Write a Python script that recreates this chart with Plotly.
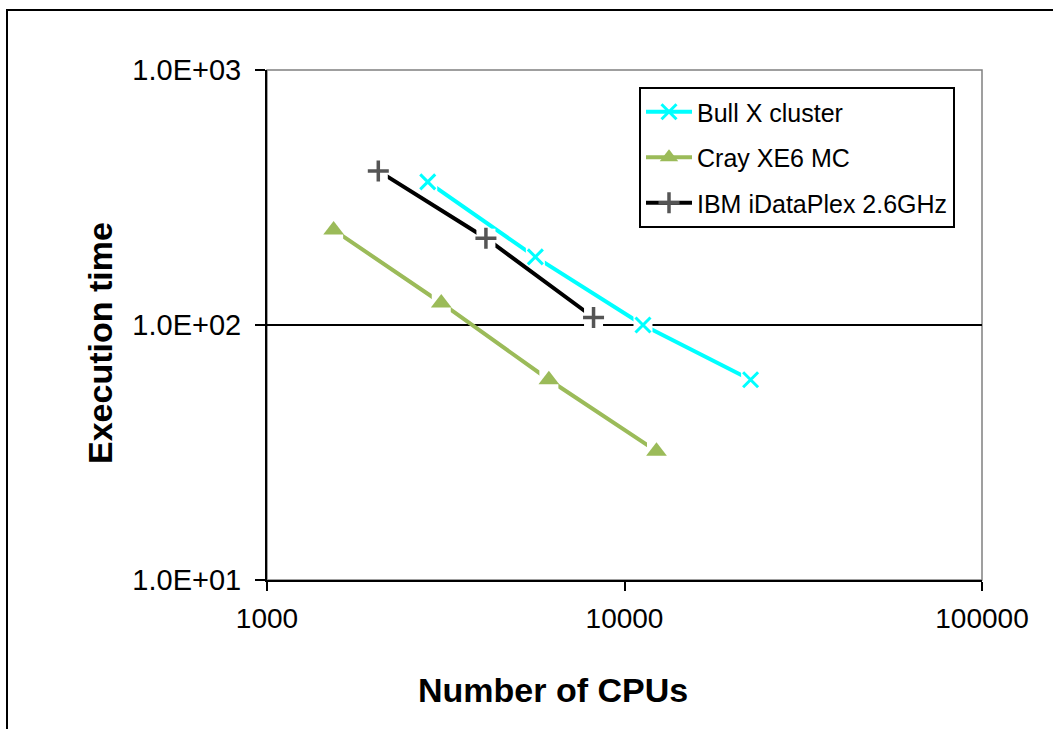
import plotly.graph_objects as go

bull_x = [2816, 5632, 11264, 22528]
bull_y = [364, 185, 100, 61]
cray_x = [1536, 3072, 6144, 12288]
cray_y = [236, 122, 61, 32]
ibm_x = [2048, 4096, 8192]
ibm_y = [402, 219, 107]

xtick_vals = [1000, 10000, 100000]
xtick_text = ["1000", "10000", "100000"]
ytick_vals = [10, 100, 1000]
ytick_text = ["1.0E+01", "1.0E+02", "1.0E+03"]

series = [
    ("Bull X cluster", bull_x, bull_y, "#00FFFF", dict(symbol="x-thin", size=15, line=dict(color="#00FFFF", width=3))),
    ("Cray XE6 MC", cray_x, cray_y, "#9BBB59", dict(symbol="triangle-up", size=18, color="#9BBB59", line=dict(width=0))),
    ("IBM iDataPlex 2.6GHz", ibm_x, ibm_y, "#000000", dict(symbol="cross-thin", size=15, line=dict(color="#555555", width=3.5))),
]

fig = go.Figure()
for name, xs, ys, col, mk in series:
    fig.add_trace(go.Scatter(x=xs, y=ys, mode="lines", line=dict(color=col, width=4),
                             showlegend=False, hoverinfo="skip"))
    # white halo behind markers (Excel-style gap)
    fig.add_trace(go.Scatter(x=xs, y=ys, mode="markers",
                             marker=dict(symbol="square", size=19, color="white"),
                             showlegend=False, hoverinfo="skip"))
for i, (name, xs, ys, col, mk) in enumerate(series):
    fig.add_trace(go.Scatter(x=xs, y=ys, mode="markers", marker=mk, name=name, showlegend=False))
    fig.add_trace(go.Scatter(x=[None], y=[None], mode="lines+markers", name=name,
                             legendgroup=f"g{i}",
                             line=dict(color=col, width=4), marker=mk))

L, R, T, B = 267, 71, 70, 149
W, H = 1053, 729
pw, ph = W - L - R, H - T - B

def px_x(p):
    return (p - L) / pw

def px_y(p):
    return 1 - (p - T) / ph

fig.update_layout(
    width=W, height=H,
    margin=dict(l=L, r=R, t=T, b=B),
    paper_bgcolor="white", plot_bgcolor="white",
    font=dict(family="Arial, Liberation Sans, sans-serif", color="black", size=28),
    xaxis=dict(type="log", range=[3, 5], tickvals=xtick_vals, ticktext=xtick_text,
               showgrid=False, zeroline=False, showline=True, linecolor="black", linewidth=2,
               ticks="outside", ticklen=9, tickwidth=2, tickcolor="black",
               tickfont=dict(size=28), ticklabelstandoff=3),
    yaxis=dict(type="log", range=[1, 3], tickvals=ytick_vals, ticktext=ytick_text,
               showgrid=True, gridcolor="black", gridwidth=1.5, zeroline=False,
               showline=True, linecolor="black", linewidth=2,
               ticks="outside", ticklen=10, tickwidth=2, tickcolor="black",
               tickfont=dict(size=29), ticklabelstandoff=8),
    legend=dict(x=px_x(639), y=px_y(87), xanchor="left", yanchor="top",
                bgcolor="white", bordercolor="black", borderwidth=2,
                font=dict(size=25), traceorder="grouped", tracegroupgap=10, itemwidth=46),
    annotations=[
        dict(text="<b>Number of CPUs</b>", xref="paper", yref="paper",
             x=px_x(553), y=px_y(690), xanchor="center", yanchor="middle",
             showarrow=False, font=dict(size=34)),
        dict(text="<b>Execution time</b>", xref="paper", yref="paper",
             x=px_x(100), y=px_y(343), xanchor="center", yanchor="middle",
             textangle=-90, showarrow=False, font=dict(size=34)),
    ],
    shapes=[
        dict(type="rect", xref="paper", yref="paper", x0=0, x1=1, y0=0, y1=1,
             line=dict(color="#808080", width=1.5), layer="below"),
        dict(type="rect", xref="paper", yref="paper",
             x0=px_x(7), x1=px_x(1060), y0=px_y(740), y1=px_y(10),
             line=dict(color="black", width=2), layer="below"),
    ],
)

fig.write_html("out.html")
